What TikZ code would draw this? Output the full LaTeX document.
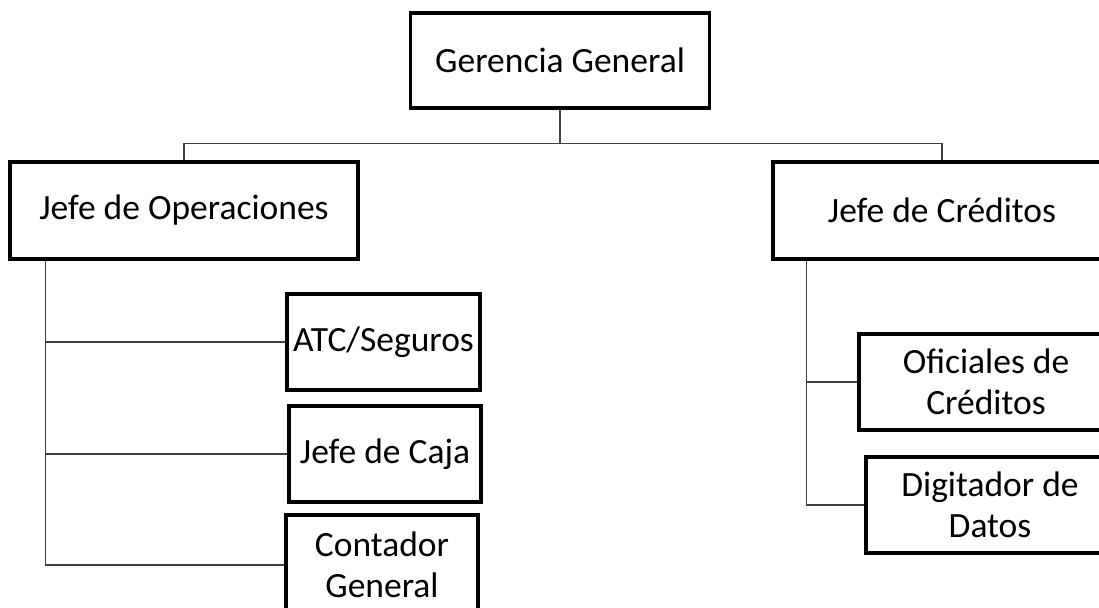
\documentclass[tikz,border=0pt]{standalone}
\usepackage{fontspec}
\setmainfont{Carlito}
\usepackage{tikz}
\usetikzlibrary{positioning}

\begin{document}
\begin{tikzpicture}[x=1pt,y=-1pt,
        box/.style={draw=black,line width=3.2pt,inner sep=0pt,align=center,
            font=\fontsize{35.5}{41}\selectfont},
        conn/.style={draw=black!75,line width=1.4pt}]
        \path[use as bounding box,clip] (0,0) rectangle (1099,607);
        \node[box,minimum width=299pt,minimum height=95pt] (gerencia) at (560,60.5) {Gerencia General};
        \node[box,minimum width=348pt,minimum height=97pt] (jefeop) at (184,210.5) {Jefe de Operaciones};
        \node[box,minimum width=338pt,minimum height=97pt] (jefecred) at (942,210.5) {Jefe de Créditos};
        \node[box,minimum width=193pt,minimum height=96pt] (atc) at (383.5,342) {ATC/Seguros};
        \node[box,minimum width=192pt,minimum height=96pt] (caja) at (385,454) {Jefe de Caja};
        \node[box,minimum width=192pt,minimum height=100pt] (contador) at (382,565) {Contador\\General};
        \node[box,minimum width=254pt,minimum height=96pt] (oficiales) at (986,382) {Oficiales de\\Créditos};
        \node[box,minimum width=248pt,minimum height=96pt] (digitador) at (990,505) {Digitador de\\Datos};
        \draw[conn] (gerencia.south) -- ++(0,34) -| (jefeop.north);
        \draw[conn] (gerencia.south) -- ++(0,34) -| (jefecred.north);
        \draw[conn] ([xshift=37pt]jefeop.south west) |- (atc.west);
        \draw[conn] ([xshift=37pt]jefeop.south west) |- (caja.west);
        \draw[conn] ([xshift=37pt]jefeop.south west) |- (contador.west);
        \draw[conn] ([xshift=35pt]jefecred.south west) |- (oficiales.west);
        \draw[conn] ([xshift=35pt]jefecred.south west) |- (digitador.west);
    \end{tikzpicture}
\end{document}
